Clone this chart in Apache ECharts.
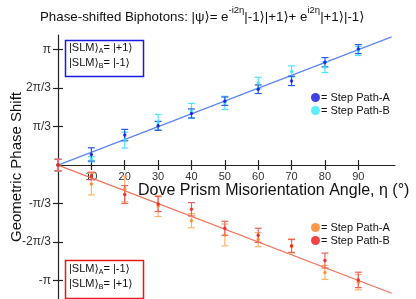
<!DOCTYPE html>
<html><head><meta charset="utf-8">
<script src="https://cdn.jsdelivr.net/npm/echarts@6/dist/echarts.min.js"></script>
<style>html,body{margin:0;padding:0;background:#fff}#c{width:416px;height:299px}</style>
</head><body><div id="c"></div>
<script>
// ---- data ----
const eta = [0, 10, 20, 30, 40, 50, 60, 70, 80, 90];
// phase in degrees (pi = 180)
const plusA  = [0, 16.7, 46.8, 61.2, 80.6, 99.7, 118.4, 131.4, 160.5, 181];
const plusAErr = [9, 10.3, 8.9, 7, 7, 6.5, 6.7, 7.3, 7.3, 7];
const plusB  = [0, 9, 39, 67, 84.5, 97, 128, 146.2, 152.7, 178];
const plusBErr = [9, 4, 12.5, 12, 11.7, 10.4, 9, 8.6, 8.3, 7];
const minusA = [0, -29.6, -37.4, -64, -86.8, -109, -116.3, -126.2, -167.5, -182.8];
const minusAErr = [9, 17, 20, 16.4, 11, 17, 11, 11, 11, 12];
const minusB = [0, -17, -46, -60.8, -69, -98.6, -109.6, -126.2, -149, -179.2];
const minusBErr = [9, 6, 14, 11.7, 10.4, 11, 11, 10, 11.7, 12];
const fitEta = [0, 100];
const fitPlus = [0, 200];
const fitMinus = [0, -200];
const xTickValues = [10, 20, 30, 40, 50, 60, 70, 80, 90];
const yTickValues = [-180, -120, -60, 60, 120, 180];
const yTickLabels = ['-π', '-2π/3', '-π/3', 'π/3', '2π/3', 'π'];

const FONT = 'Liberation Sans, Arial, DejaVu Sans, sans-serif';
const chart = echarts.init(document.getElementById('c'), null, {renderer: 'canvas'});

function pts(v) { return eta.map((e, i) => [e, v[i]]); }
function errs(v, err) { return eta.map((e, i) => [e, v[i] - err[i], v[i] + err[i]]); }
function errSeries(v, err, color) {
  return {
    type: 'custom', silent: true, z: 3,
    data: errs(v, err),
    encode: {x: 0, y: [1, 2]},
    renderItem: function (params, api) {
      const x = api.value(0);
      const lo = api.coord([x, api.value(1)]);
      const hi = api.coord([x, api.value(2)]);
      const w = 3.5;
      const st = {stroke: color, lineWidth: 1.2};
      return {type: 'group', children: [
        {type: 'line', shape: {x1: lo[0], y1: lo[1], x2: hi[0], y2: hi[1]}, style: st},
        {type: 'line', shape: {x1: lo[0] - w, y1: lo[1], x2: lo[0] + w, y2: lo[1]}, style: st},
        {type: 'line', shape: {x1: hi[0] - w, y1: hi[1], x2: hi[0] + w, y2: hi[1]}, style: st}
      ]};
    }
  };
}
function fitSeries(vals, color) {
  return {type: 'line', data: fitEta.map((e, i) => [e, vals[i]]), symbol: 'none', silent: true,
    lineStyle: {color: color, width: 1.2}, z: 2};
}
function dotSeries(name, v, color) {
  return {type: 'scatter', name: name, data: pts(v), symbol: 'circle', symbolSize: 3.5,
    itemStyle: {color: color}, z: 5};
}

const legendNames = {pA: '= Step Path-A', pB: '= Step Path-B', mA: '= Step Path-A', mB: '= Step Path-B'};
const legendBase = {
  orient: 'vertical', left: 311, icon: 'circle', itemWidth: 9, itemHeight: 9, itemGap: 2,
  padding: 0,
  textStyle: {fontFamily: FONT, fontSize: 11, color: '#111', lineHeight: 10, padding: [0, 0, 0, -4]},
  formatter: n => legendNames[n], selectedMode: false
};
const tickStyle = {color: '#222', width: 1.2};

const option = {
  animation: false,
  backgroundColor: '#fff',
  grid: [
    {left: 58, right: 21, top: 35, bottom: 0, containLabel: false, outerBoundsMode: 'none'},
    {left: 58, right: 21, top: 35, bottom: 134, containLabel: false, outerBoundsMode: 'none'}
  ],
  title: {
    left: 35, top: -2,
    text: '{m|Phase-shifted Biphotons: |ψ⟩= e}{s|-i2η}{m||-1⟩|+1⟩+ e}{s|i2η}{m||+1⟩|-1⟩}',
    textStyle: {
      fontFamily: FONT, fontWeight: 'normal',
      rich: {
        m: {fontFamily: FONT, fontSize: 13.3, fontWeight: 'normal', color: '#111', padding: [8, 0, 0, 0]},
        s: {fontFamily: FONT, fontSize: 9.5, fontWeight: 'normal', color: '#111', padding: [0, 0, 6, 0]}
      }
    }
  },
  legend: [
    Object.assign({}, legendBase, {top: 92, data: ['pA', 'pB']}),
    Object.assign({}, legendBase, {top: 222, data: ['mA', 'mB']})
  ],
  xAxis: [{
    gridIndex: 0, type: 'value', min: 0, max: 101, position: 'bottom',
    axisLine: {onZero: true, lineStyle: {color: '#222', width: 1.2}},
    axisTick: {show: true, length: 5, inside: true, customValues: xTickValues, lineStyle: tickStyle},
    axisLabel: {show: false},
    splitLine: {show: false}
  }, {
    gridIndex: 1, type: 'value', min: 0, max: 101, position: 'bottom',
    axisLine: {show: false, onZero: false},
    axisTick: {show: true, length: 5, inside: false, customValues: xTickValues, lineStyle: tickStyle},
    axisLabel: {customValues: xTickValues, margin: 6, fontFamily: FONT, fontSize: 11, color: '#333'},
    splitLine: {show: false}
  }],
  yAxis: [{
    gridIndex: 0, type: 'value', min: -209, max: 203, position: 'left',
    axisLine: {show: true, onZero: false, lineStyle: {color: '#222', width: 1.2}},
    axisTick: {show: true, length: 5, inside: false, customValues: yTickValues, lineStyle: tickStyle},
    axisLabel: {customValues: yTickValues, margin: 7, fontFamily: FONT, fontSize: 12, color: '#333',
      formatter: v => yTickLabels[yTickValues.indexOf(Math.round(v))] || ''},
    splitLine: {show: false},
    name: 'Geometric Phase Shift', nameLocation: 'middle', nameGap: 34, nameRotate: 90,
    nameMoveOverlap: false,
    nameTextStyle: {fontFamily: FONT, fontSize: 15, color: '#111'}
  }, {
    gridIndex: 0, type: 'value', min: -209, max: 203, position: 'left',
    axisLine: {show: false, onZero: false},
    axisTick: {show: true, length: 5, inside: true, customValues: yTickValues, lineStyle: tickStyle},
    axisLabel: {show: false},
    splitLine: {show: false}
  }, {
    gridIndex: 1, type: 'value', min: 0, max: 1, show: false
  }],
  graphic: [
    {type: 'text', left: 138, top: 183, silent: true,
      style: {text: 'Dove Prism Misorientation Angle, η (°)', font: '16px ' + FONT, fill: '#111'}},
    {type: 'rect', left: 63, top: 38, silent: true, shape: {width: 78, height: 36},
      style: {fill: 'none', stroke: '#1a1ae6', lineWidth: 1.5}},
    {type: 'text', left: 69, top: 41, silent: true, style: {
      text: '{t||SLM⟩}{b|A}{t|= |+1⟩}\n{t||SLM⟩}{b|B}{t|= |-1⟩}',
      rich: {t: {fontFamily: FONT, fontSize: 11, fill: '#111', lineHeight: 15},
             b: {fontFamily: FONT, fontSize: 7, fill: '#111', padding: [7, 0, 0, 0], lineHeight: 15}}}},
    {type: 'rect', left: 63, top: 258, silent: true, shape: {width: 78, height: 38},
      style: {fill: 'none', stroke: '#e61a1a', lineWidth: 1.5}},
    {type: 'text', left: 69, top: 262, silent: true, style: {
      text: '{t||SLM⟩}{b|A}{t|= |-1⟩}\n{t||SLM⟩}{b|B}{t|= |+1⟩}',
      rich: {t: {fontFamily: FONT, fontSize: 11, fill: '#111', lineHeight: 15},
             b: {fontFamily: FONT, fontSize: 7, fill: '#111', padding: [7, 0, 0, 0], lineHeight: 15}}}}
  ],
  series: [
    fitSeries(fitPlus, '#5b85f0'),
    fitSeries(fitMinus, '#f27258'),
    errSeries(plusB, plusBErr, '#4ce6ff'),
    errSeries(plusA, plusAErr, '#2a5ae8'),
    errSeries(minusA, minusAErr, '#ffb468'),
    errSeries(minusB, minusBErr, '#f06262'),
    dotSeries('pB', plusB, '#33e8ff'),
    dotSeries('pA', plusA, '#1010dd'),
    dotSeries('mA', minusA, '#ff7f1a'),
    dotSeries('mB', minusB, '#ee1515')
  ]
};
chart.setOption(option);
</script></body></html>
